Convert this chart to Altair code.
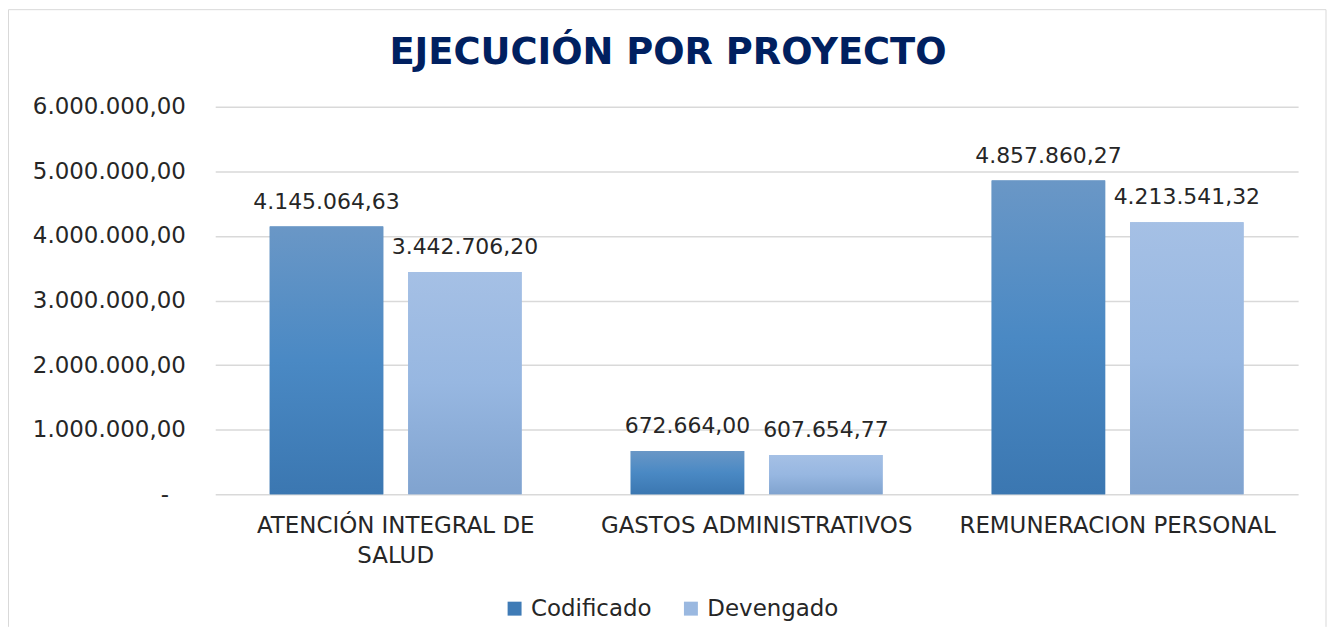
import altair as alt
import pandas as pd

categorias = ["ATENCIÓN INTEGRAL DE SALUD", "GASTOS ADMINISTRATIVOS", "REMUNERACION PERSONAL"]
series = ["Codificado", "Devengado"]
codificado = [4145064.63, 672664.00, 4857860.27]
devengado = [3442706.20, 607654.77, 4213541.32]
y_ticks = [0, 1000000, 2000000, 3000000, 4000000, 5000000, 6000000]

rows = []
for c, v in zip(categorias, codificado):
    rows.append({"categoria": c, "serie": "Codificado", "valor": v})
for c, v in zip(categorias, devengado):
    rows.append({"categoria": c, "serie": "Devengado", "valor": v})
df = pd.DataFrame(rows)

FONT = "DejaVu Sans"
TXT = "#262626"

grad_cod = alt.LinearGradient(
    gradient="linear", x1=0, x2=0, y1=0, y2=1,
    stops=[alt.GradientStop(color="#6a97c6", offset=0),
           alt.GradientStop(color="#4a89c4", offset=0.5),
           alt.GradientStop(color="#3b77b1", offset=1)])
grad_dev = alt.LinearGradient(
    gradient="linear", x1=0, x2=0, y1=0, y2=1,
    stops=[alt.GradientStop(color="#a5c0e5", offset=0),
           alt.GradientStop(color="#97b7e1", offset=0.5),
           alt.GradientStop(color="#80a3cf", offset=1)])

x_enc = alt.X("categoria:N", sort=categorias, title=None,
              scale=alt.Scale(paddingInner=0, paddingOuter=0),
              axis=alt.Axis(labelAngle=0, ticks=False, domain=False, grid=False,
                            labelFont=FONT, labelFontSize=23, labelColor=TXT,
                            labelPadding=20, labelLimit=500, labelLineHeight=30,
                            labelExpr="datum.value == 'ATENCIÓN INTEGRAL DE SALUD' ? ['ATENCIÓN INTEGRAL DE', 'SALUD'] : datum.value"))
xo_enc = alt.XOffset("serie:N", sort=series,
                     scale=alt.Scale(paddingInner=0.18, paddingOuter=0.394))
y_enc = alt.Y("valor:Q", title=None,
              scale=alt.Scale(domain=[0, 6000000], nice=False),
              axis=alt.Axis(values=y_ticks, domain=False, ticks=False,
                            gridColor="#d9d9d9", gridWidth=1.5,
                            labelFont=FONT, labelFontSize=23, labelColor=TXT,
                            labelPadding=30,
                            labelExpr="datum.value == 0 ? '-\u2800' : format(datum.value, ',.2f')"))

base = alt.Chart(df)

solid = base.mark_bar().encode(
    x=x_enc, xOffset=xo_enc, y=y_enc,
    color=alt.Color("serie:N", sort=series, title=None,
                    scale=alt.Scale(domain=series, range=["#3f7bb6", "#9ab8e0"]),
                    legend=alt.Legend(orient="none", direction="horizontal",
                                      legendX=289, legendY=492,
                                      symbolType="square", symbolSize=196,
                                      symbolStrokeWidth=0,
                                      labelFont=FONT, labelFontSize=23, labelColor=TXT,
                                      labelOffset=5, columnPadding=27))
)

grad = base.mark_bar().encode(
    x=x_enc, xOffset=xo_enc, y=y_enc,
    color=alt.condition(alt.datum.serie == "Codificado",
                        alt.value(grad_cod), alt.value(grad_dev))
)

labels = base.mark_text(font=FONT, fontSize=22, color=TXT,
                        baseline="alphabetic", dy=-18).encode(
    x=x_enc, xOffset=xo_enc, y=y_enc,
    text=alt.Text("valor:Q", format=",.2f")
)

frame_df = pd.DataFrame({"k": [0]})
frame_col = "#d9d9d9"
frame_top = alt.Chart(frame_df).mark_rule(color=frame_col, strokeWidth=1).encode(
    x=alt.value(-207.5), x2=alt.value(1115), y=alt.value(-97.5))
frame_left = alt.Chart(frame_df).mark_rule(color=frame_col, strokeWidth=1).encode(
    x=alt.value(-207.5), y=alt.value(-97.5), y2=alt.value(522))
frame_right = alt.Chart(frame_df).mark_rule(color=frame_col, strokeWidth=1).encode(
    x=alt.value(1115), y=alt.value(-97.5), y2=alt.value(522))

chart = alt.layer(solid, grad, labels, frame_top, frame_left, frame_right).properties(
    width=1087, height=389,
    padding=0,
    title=alt.TitleParams("EJECUCIÓN POR PROYECTO", font=FONT, fontSize=37,
                          fontWeight="bold", color="#002060",
                          anchor="middle", baseline="alphabetic", offset=-92, dx=-89)
).configure(
    view=alt.ViewConfig(stroke=None),
    locale={"number": {"decimal": ",", "thousands": ".", "grouping": [3],
                       "currency": ["", ""]}}
)

chart.save("out.html", embed_options={"renderer": "svg", "actions": False})
